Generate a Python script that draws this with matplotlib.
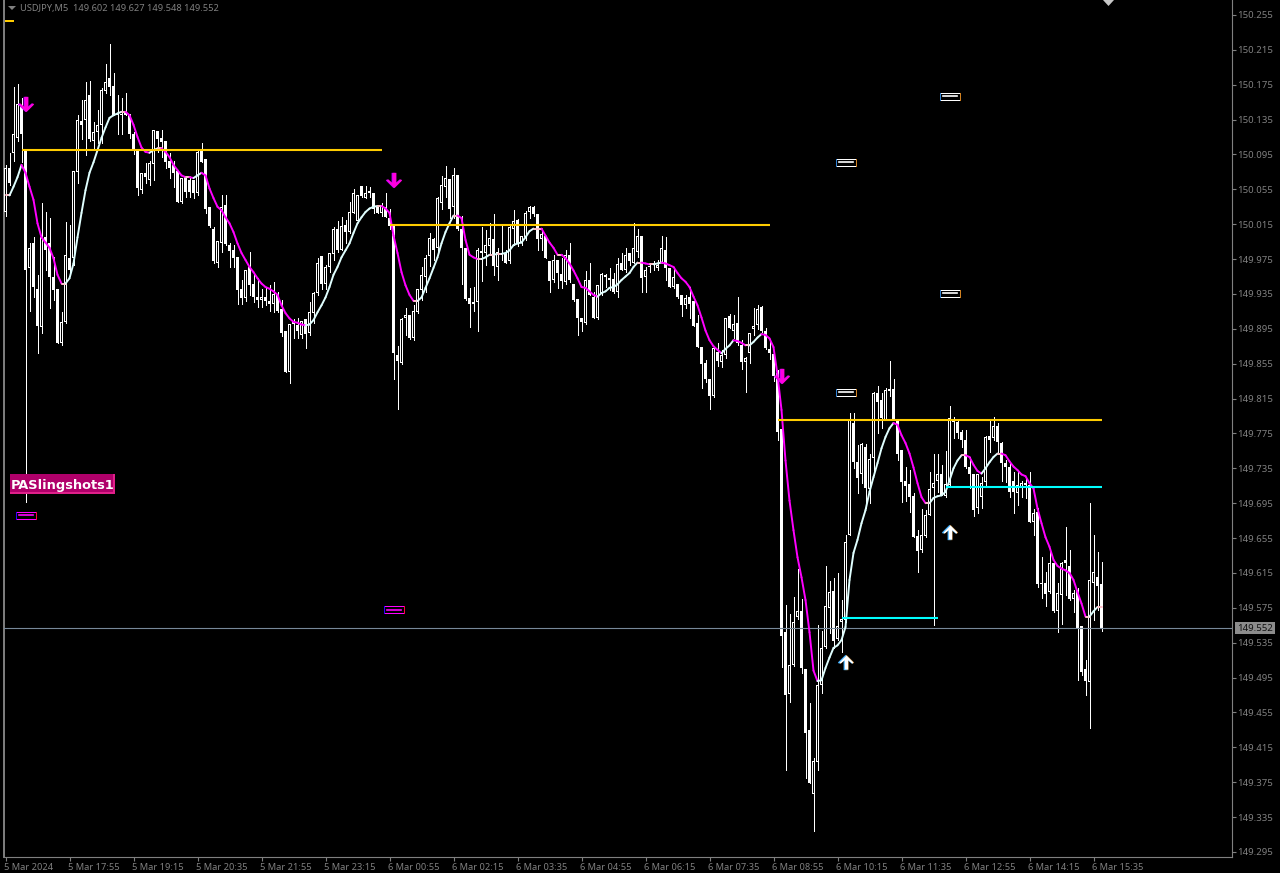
import numpy as np
import matplotlib
matplotlib.use("Agg")
import matplotlib.pyplot as plt
from matplotlib.collections import LineCollection
from matplotlib.patches import Rectangle
from matplotlib.path import Path
from matplotlib.transforms import ScaledTranslation

# prices are kept in points above 150.000 (1 point = 0.001)
BASE = 150.0
POINT = 0.001

opens_pts = [
    29, 80, 97, 114, 149, 99, -35, -7, -59, -103,
    0, -7, -46, -59, -121, -97, -24, -24, 75, 133,
    134, 163, 111, 121, 129, 168, 183, 173, 142, 142,
    144, 140, 119, 100, 54, 74, 66, 84, 122, 114,
    111, 87, 83, 76, 40, 69, 66, 66, 51, 100,
    90, 35, 9, -29, -6, 37, -9, -15, -23, -59,
    -70, -34, -54, -68, -72, -69, -73, -76, -66, -82,
    -108, -155, -97, -101, -112, -94, -110, -87, -64, -22,
    -53, -34, -19, 10, -14, 14, 6, 28, 19, 59,
    45, 53, 51, 35, 28, 35, 22, 13, -135, -144,
    -92, -89, -116, -86, -61, -45, -22, -2, -12, 39,
    58, 67, 35, 71, 10, -12, -70, -77, -74, -16,
    -18, -10, -2, -34, -18, -18, -27, 10, 20, -6,
    0, 29, 35, 27, -2, 2, -27, -49, -26, -42,
    -51, -20, -53, -71, -92, -98, -49, -68, -92, -64,
    -43, -47, -48, -63, -29, -38, -18, -29, -17, 1,
    -46, -33, -30, -35, -30, -14, -35, -57, -54, -66,
    -78, -69, -73, -98, -126, -144, -162, -182, -132, -143,
    -135, -90, -108, -98, -124, -143, -133, -105, -101, -80,
    -107, -128, -134, -156, -220, -453, -524, -491, -436, -429,
    -495, -565, -638, -602, -513, -470, -425, -406, -461, -441,
    -439, -341, -213, -258, -271, -240, -289, -253, -179, -187,
    -210, -174, -174, -210, -244, -280, -283, -297, -343, -359,
    -343, -319, -288, -280, -272, -297, -284, -212, -212, -223,
    -232, -264, -271, -311, -298, -281, -228, -230, -217, -236,
    -259, -263, -280, -293, -287, -282, -284, -326, -315, -397,
    -397, -407, -374, -429, -410, -370, -377, -415, -405, -446,
    -495, -510, -397, -390, -398,
]
highs_pts = [
    83, 97, 172, 176, 160, 100, -6, 0, -43, 39,
    29, 22, -23, -59, -86, 17, 14, 76, 140, 157,
    178, 179, 132, 146, 171, 199, 222, 188, 163, 160,
    165, 142, 121, 100, 74, 85, 88, 123, 122, 123,
    111, 97, 88, 76, 68, 69, 68, 66, 100, 108,
    90, 35, 12, -4, 48, 48, -7, -9, -23, -49,
    -37, -17, -42, -47, -59, -57, -55, -51, -63, -72,
    -108, -100, -94, -92, -96, -94, -74, -63, -24, -22,
    -32, -18, 12, 19, 23, 20, 40, 55, 48, 59,
    59, 58, 51, 37, 39, 51, 33, 13, -125, -93,
    -81, -89, -78, -59, -34, -20, 5, -1, 46, 70,
    82, 67, 79, 72, 24, -12, -58, -57, -12, 12,
    8, 16, 27, -12, 13, -14, 13, 31, 21, 2,
    30, 36, 36, 27, 8, 2, -27, -20, -26, -24,
    -15, -6, -53, -71, -92, -39, -29, -63, -55, -41,
    -42, -35, -41, -24, -18, -12, -18, 16, 10, 1,
    -34, -29, -27, -26, 2, 0, -35, -34, -54, -66,
    -66, -57, -73, -89, -126, -141, -162, -126, -121, -129,
    -92, -88, -89, -68, -118, -137, -110, -81, -78, -79,
    -104, -117, -134, -152, -220, -422, -432, -413, -380, -415,
    -495, -534, -597, -445, -452, -377, -394, -391, -385, -416,
    -342, -201, -201, -238, -236, -237, -248, -178, -171, -179,
    -173, -142, -162, -210, -244, -263, -267, -293, -336, -312,
    -313, -269, -248, -248, -261, -245, -194, -206, -210, -221,
    -221, -252, -271, -271, -275, -228, -210, -206, -213, -235,
    -256, -259, -269, -269, -279, -276, -269, -312, -311, -367,
    -384, -359, -374, -396, -373, -332, -359, -405, -402, -446,
    -485, -305, -341, -361, -373,
]
lows_pts = [
    25, 60, 88, 111, 86, -304, -84, -69, -133, -110,
    -38, -81, -72, -121, -123, -98, -43, -32, 62, 113,
    94, 111, 100, 108, 108, 166, 163, 140, 119, 119,
    140, 114, 95, 48, 51, 62, 60, 66, 98, 92,
    80, 68, 58, 40, 39, 46, 46, 45, 48, 86,
    28, 12, -30, -34, -17, -9, -34, -34, -76, -76,
    -73, -66, -74, -80, -80, -78, -85, -86, -86, -113,
    -155, -167, -115, -116, -116, -127, -112, -98, -66, -59,
    -59, -40, -26, -17, -14, -6, 5, 28, 19, 46,
    45, 46, 28, 28, 25, 23, 10, -163, -197, -145,
    -112, -117, -118, -87, -72, -63, -33, -26, -18, 33,
    46, 22, 22, 8, -53, -72, -103, -84, -108, -50,
    -32, -20, -43, -49, -26, -30, -29, -9, -10, -9,
    -3, 22, 25, -14, -14, -24, -63, -51, -58, -58,
    -53, -51, -73, -112, -108, -100, -66, -92, -94, -66,
    -57, -61, -64, -69, -38, -40, -32, -30, -23, -63,
    -63, -40, -38, -37, -30, -49, -57, -58, -70, -90,
    -81, -92, -102, -126, -173, -166, -197, -183, -148, -149,
    -139, -104, -116, -124, -151, -178, -144, -112, -105, -109,
    -128, -140, -165, -232, -493, -611, -533, -492, -438, -500,
    -620, -626, -681, -611, -523, -471, -454, -471, -462, -476,
    -441, -342, -265, -293, -282, -310, -305, -273, -225, -219,
    -210, -182, -210, -256, -304, -302, -315, -344, -384, -361,
    -344, -319, -445, -292, -296, -298, -285, -230, -230, -241,
    -265, -287, -320, -316, -310, -284, -246, -233, -246, -279,
    -281, -298, -316, -307, -298, -299, -326, -342, -401, -414,
    -423, -408, -430, -453, -443, -410, -416, -430, -508, -502,
    -525, -563, -439, -428, -452,
]
closes_pts = [
    80, 62, 119, 153, 119, -38, -12, -57, -102, 0,
    -15, -46, -61, -121, -97, -20, -38, 76, 134, 129,
    157, 113, 121, 129, 169, 178, 172, 140, 140, 140,
    140, 119, 100, 56, 74, 69, 85, 123, 113, 109,
    86, 80, 74, 40, 68, 52, 52, 51, 98, 86,
    33, 13, -27, -4, 35, -8, -16, -24, -61, -70,
    -37, -55, -69, -72, -69, -73, -76, -65, -84, -110,
    -155, -100, -100, -108, -96, -111, -86, -64, -29, -54,
    -34, -18, 10, -15, 13, 6, 29, 51, 48, 47,
    51, 51, 33, 28, 37, 23, 13, -133, -142, -94,
    -89, -116, -84, -59, -43, -24, -1, -14, 45, 60,
    68, 33, 71, 9, -12, -71, -76, -74, -14, -18,
    -9, -1, -33, -17, -19, -29, 12, 19, -6, 1,
    28, 35, 27, -2, 4, -24, -50, -26, -41, -50,
    -20, -49, -72, -93, -97, -49, -66, -92, -55, -42,
    -46, -49, -63, -31, -37, -20, -27, -12, 2, -47,
    -37, -34, -31, -32, -12, -35, -57, -45, -69, -78,
    -70, -77, -102, -126, -145, -163, -182, -127, -142, -135,
    -92, -104, -100, -121, -143, -139, -110, -102, -82, -107,
    -127, -133, -159, -223, -457, -525, -491, -441, -429, -494,
    -569, -626, -601, -514, -471, -423, -407, -463, -446, -438,
    -350, -210, -258, -276, -237, -288, -254, -179, -189, -207,
    -175, -176, -210, -248, -281, -285, -298, -344, -360, -342,
    -319, -289, -282, -272, -296, -283, -207, -210, -225, -233,
    -264, -271, -313, -271, -282, -229, -233, -217, -235, -259,
    -264, -292, -292, -284, -282, -284, -326, -316, -398, -398,
    -409, -374, -429, -408, -374, -374, -415, -408, -448, -499,
    -509, -393, -384, -400, -448,
]
ma_pts = [
    48, 48, 58, 69, 83, 74, 58, 43, 16, 0,
    -6, -12, -24, -43, -53, -53, -47, -30, 0, 28,
    54, 74, 86, 100, 114, 126, 137, 140, 142, 144,
    144, 140, 129, 115, 103, 98, 97, 100, 102, 102,
    98, 92, 83, 77, 71, 69, 69, 68, 71, 74,
    71, 56, 45, 35, 31, 23, 16, 6, -7, -18,
    -26, -34, -40, -47, -53, -57, -59, -62, -66, -78,
    -87, -93, -97, -98, -100, -101, -100, -95, -86, -78,
    -69, -57, -43, -34, -23, -15, -7, 5, 16, 23,
    29, 33, 35, 36, 36, 33, 28, 2, -18, -40,
    -55, -66, -73, -73, -69, -58, -47, -35, -23, -7,
    6, 16, 25, 25, 22, -3, -20, -23, -25, -25,
    -23, -20, -20, -19, -19, -18, -15, -9, -7, -6,
    0, 7, 10, 10, 10, 2, -6, -12, -20, -20,
    -24, -30, -38, -47, -57, -58, -62, -66, -68, -64,
    -62, -58, -57, -54, -49, -45, -41, -34, -29, -29,
    -30, -31, -31, -30, -29, -30, -32, -34, -41, -47,
    -51, -57, -68, -78, -92, -107, -118, -125, -129, -133,
    -128, -124, -118, -119, -121, -124, -124, -120, -115, -111,
    -112, -116, -126, -158, -198, -256, -302, -336, -367, -390,
    -416, -453, -497, -509, -508, -494, -482, -471, -468, -462,
    -447, -393, -362, -347, -328, -313, -292, -275, -259, -242,
    -229, -219, -213, -215, -227, -236, -248, -264, -282, -298,
    -305, -305, -299, -297, -296, -292, -279, -265, -256, -250,
    -250, -252, -261, -268, -271, -265, -258, -252, -248, -248,
    -250, -257, -263, -267, -272, -274, -282, -288, -311, -328,
    -344, -355, -370, -377, -380, -382, -385, -393, -407, -420,
    -435, -435, -429, -424, -424,
]

yticks = [149.295 + 0.04 * i for i in range(25)]
xtick_bars = list(range(0, 273, 16))
xtick_labels = ["5 Mar 2024", "5 Mar 17:55", "5 Mar 19:15", "5 Mar 20:35", "5 Mar 21:55",
                "5 Mar 23:15", "6 Mar 00:55", "6 Mar 02:15", "6 Mar 03:35", "6 Mar 04:55",
                "6 Mar 06:15", "6 Mar 07:35", "6 Mar 08:55", "6 Mar 10:15", "6 Mar 11:35",
                "6 Mar 12:55", "6 Mar 14:15", "6 Mar 15:35"]

last_price = 149.552
gold_levels = [(4, 94, 150.100), (96, 191, 150.014), (193, 274, 149.790)]
cyan_levels = [(235, 274, 149.714), (209, 233, 149.563)]
down_bars = [5, 97, 194]
down_prices = [150.153, 150.066, 149.841]
up_bars = [210, 236]
up_prices = [149.513, 149.662]
box_bars = [210, 236, 236, 210]
box_prices = [150.086, 150.162, 149.936, 149.822]
magenta_box_bars = [5, 97]
magenta_box_prices = [149.681, 149.573]

W, H = 1280, 873
GREY = "#808080"

opens = BASE + np.array(opens_pts) * POINT
highs = BASE + np.array(highs_pts) * POINT
lows = BASE + np.array(lows_pts) * POINT
closes = BASE + np.array(closes_pts) * POINT
ma = BASE + np.array(ma_pts) * POINT
bars = np.arange(len(opens))

plt.rcParams["font.family"] = ["Noto Sans", "DejaVu Sans"]

fig = plt.figure(figsize=(W / 100, H / 100), dpi=100, facecolor="black")
ax = fig.add_axes([4 / W, 1 - 857 / H, 1228 / W, 857 / H], facecolor="black")
ax.set_xlim(-0.375, 306.625)
ax.set_ylim(149.2892, 150.2722)
px = (150.2722 - 149.2892) / 857

# candles: wick, white body, then a black core for the up bars
ax.vlines(bars, lows, highs, color="white", lw=0.72, antialiased=False, zorder=2)
tops = np.maximum(opens, closes)
bottoms = np.minimum(opens, closes)
ax.bar(bars, np.maximum(tops - bottoms, px), bottom=bottoms, width=0.78, color="white",
       linewidth=0, antialiased=False, zorder=3)
up = closes > opens
core = (tops - bottoms) > 2 * px
ax.bar(bars[up & core], (tops - bottoms)[up & core] - 2 * px, bottom=bottoms[up & core] + px,
       width=0.25, color="black", linewidth=0, antialiased=False, zorder=4)

# moving average, coloured by direction
segs = [[(bars[i], ma[i]), (bars[i + 1], ma[i + 1])] for i in range(len(ma) - 1)]
diff = np.diff(ma)
cols = ["#e0ffff" if d > 0 else "#ff00ff" if d < 0 else "#ffc0cb" for d in diff]
ax.add_collection(LineCollection(segs, colors=cols, linewidths=1.4, zorder=6, capstyle="round"))

ax.axhline(last_price, color="#778899", lw=0.8, zorder=5)

for x0, x1, y in gold_levels:
    ax.plot([x0, x1], [y, y], color="#ffcc00", lw=1.5, solid_capstyle="butt", zorder=7)
for x0, x1, y in cyan_levels:
    ax.plot([x0, x1], [y, y], color="#00ffff", lw=1.5, solid_capstyle="butt", zorder=7)

# arrows
up_arrow = Path([(0, 6), (6, 0), (5, -1), (1.5, 2), (1.5, -6), (-1.5, -6), (-1.5, 2), (-5, -1), (-6, 0), (0, 6)], closed=True)
down_arrow = Path([(0, -6), (6, 0), (5, 1), (1.5, -2), (1.5, 6), (-1.5, 6), (-1.5, -2), (-5, 1), (-6, 0), (0, -6)], closed=True)
ax.plot(np.array(down_bars) - 0.1, down_prices, ls="", marker=down_arrow, ms=11, color="#c000ff", mew=0, zorder=8)
ax.plot(down_bars, down_prices, ls="", marker=down_arrow, ms=11, color="#ff00dd", mew=0, zorder=8)
ax.plot(np.array(up_bars) + 0.2, up_prices, ls="", marker=up_arrow, ms=11, color="#d08020", mew=0, zorder=8)
ax.plot(np.array(up_bars) - 0.2, up_prices, ls="", marker=up_arrow, ms=11, color="#40b0ff", mew=0, zorder=8)
ax.plot(up_bars, up_prices, ls="", marker=up_arrow, ms=10, color="white", mew=0, zorder=9)

# small object boxes
for b, p in zip(box_bars, box_prices):
    ax.add_patch(Rectangle((b - 2.5, p - 3.5 * px), 5, 7 * px, fc="black", ec="white", lw=0.72, zorder=8))
    ax.plot([b - 2.5, b - 2.5], [p - 3.5 * px, p + 3.5 * px], color="#3080d0", lw=0.72, zorder=9)
    ax.plot([b + 2.5, b + 2.5], [p - 3.5 * px, p + 3.5 * px], color="#d08020", lw=0.72, zorder=9)
    ax.plot([b - 1.75, b + 1.75], [p, p], color="white", lw=1.2, zorder=9)
for b, p in zip(magenta_box_bars, magenta_box_prices):
    ax.add_patch(Rectangle((b - 2.5, p - 3.5 * px), 5, 7 * px, fc="black", ec="#ff00ff", lw=0.72, zorder=8))
    ax.plot([b - 2.5, b - 2.5], [p - 3.5 * px, p + 3.5 * px], color="#3000ff", lw=0.72, zorder=9)
    ax.plot([b + 2.5, b + 2.5], [p - 3.5 * px, p + 3.5 * px], color="#ff0040", lw=0.72, zorder=9)
    ax.plot([b - 1.75, b + 1.75], [p, p], color="#ff00ff", lw=1.2, zorder=9)

# axes frame and ticks
ax.spines["top"].set_visible(False)
ax.spines["left"].set(color=GREY, lw=1.4)
ax.spines["right"].set(color=GREY, lw=0.8)
ax.spines["bottom"].set(color=GREY, lw=0.8)
ax.yaxis.tick_right()
ax.set_yticks(yticks)
ax.set_yticklabels([f"{v:.3f}" for v in yticks])
ax.set_xticks(xtick_bars)
ax.set_xticklabels(xtick_labels, ha="left")
ax.tick_params(axis="y", colors=GREY, labelsize=6.9, length=3, width=0.8, pad=1)
ax.tick_params(axis="x", colors=GREY, labelsize=6.7, length=3, width=0.8, pad=1.5)
shift = ScaledTranslation(-1 / 100, 0, fig.dpi_scale_trans)
for lab in ax.get_xticklabels():
    lab.set_transform(lab.get_transform() + shift)

# last price tag
fig.patches.append(Rectangle((1235 / W, 1 - 634 / H), 40 / W, 12 / H, transform=fig.transFigure,
                             fc="#8c8c8c", ec="none"))
fig.text(1255 / W, 1 - 628.5 / H, f"{last_price:.3f}", color="#111111", fontsize=6.9, ha="center", va="center")

# header
fig.text(20 / W, 1 - 8.5 / H, "USDJPY,M5  149.602 149.627 149.548 149.552", color=GREY, fontsize=6.7,
         va="center", ha="left")
fig.patches.append(plt.Polygon([[8 / W, 1 - 6 / H], [16 / W, 1 - 6 / H], [12 / W, 1 - 10 / H]], closed=True,
                               transform=fig.transFigure, fc=GREY, ec="none"))
fig.patches.append(Rectangle((5 / W, 1 - 22 / H), 9 / W, 2 / H, transform=fig.transFigure, fc="#ffcc00", ec="none"))
fig.patches.append(plt.Polygon([[1103 / W, 1 - 0 / H], [1114 / W, 1 - 0 / H], [1108.5 / W, 1 - 6 / H]], closed=True,
                               transform=fig.transFigure, fc="#c8c8c8", ec="none"))

# indicator name label
fig.patches.append(Rectangle((10 / W, 1 - 494 / H), 105 / W, 20 / H, transform=fig.transFigure, fc="#e0208a", ec="none", zorder=10))
fig.patches.append(Rectangle((10 / W, 1 - 492 / H), 103 / W, 18 / H, transform=fig.transFigure, fc="#b0006a", ec="none", zorder=11))
fig.text(11 / W, 1 - 485 / H, "PASlingshots1", color="white", fontsize=9.4, fontweight="bold",
         family="DejaVu Sans", va="center", ha="left", zorder=12)

fig.savefig("out.png", dpi=100, facecolor="black")
